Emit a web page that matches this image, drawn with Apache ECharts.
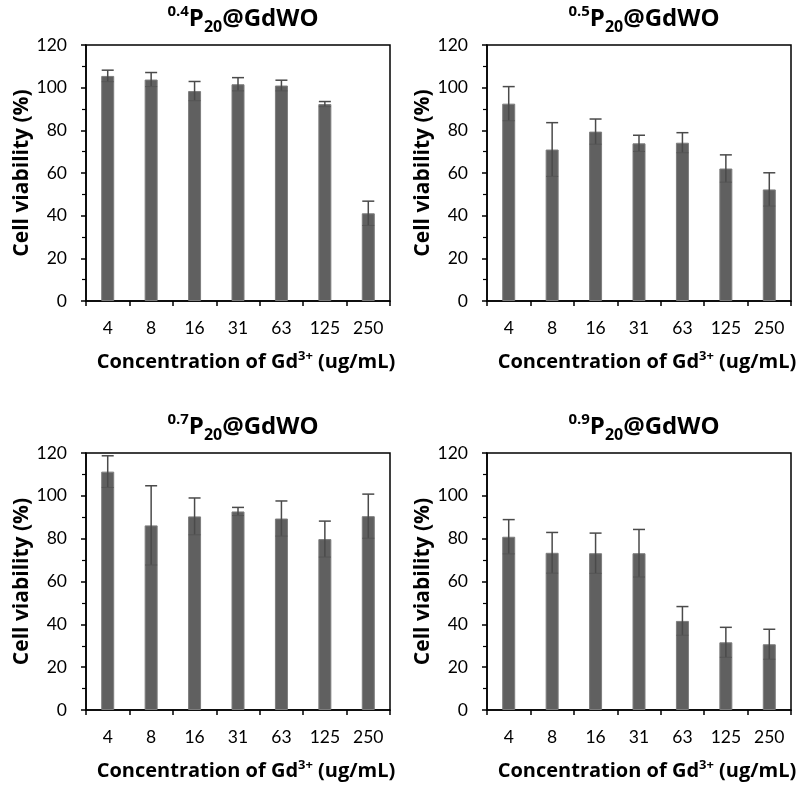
<!DOCTYPE html>
<html>
<head>
<meta charset="utf-8">
<script src="https://cdn.jsdelivr.net/npm/echarts@6/dist/echarts.min.js"></script>
<style>
  html, body { margin: 0; padding: 0; background: #fff; }
  #chart { width: 802px; height: 787px; }
</style>
</head>
<body>
<div id="chart"></div>
<script>
// Gd3+ concentrations (ug/mL)
const concentrations = ['4', '8', '16', '31', '63', '125', '250'];

// Panel labels: superscript prefix of each sample
const samplePrefixes = ['0.4', '0.5', '0.7', '0.9'];

// Mean cell viability (%) per sample
const viability04 = [105.5, 103.8, 98.4, 101.6, 101.0, 92.3, 41.1];
const viability05 = [92.5, 71.0, 79.4, 73.9, 74.2, 62.1, 52.3];
const viability07 = [111.3, 86.2, 90.4, 92.7, 89.4, 79.8, 90.5];
const viability09 = [80.9, 73.4, 73.2, 73.2, 41.6, 31.6, 30.7];

// Standard deviations (%) per sample
const sd04 = [2.7, 3.3, 4.5, 3.1, 2.5, 1.2, 5.7];
const sd05 = [8.0, 12.6, 5.9, 3.8, 4.7, 6.4, 7.8];
const sd07 = [7.4, 18.5, 8.6, 1.9, 8.2, 8.4, 10.3];
const sd09 = [8.0, 9.5, 9.4, 11.1, 6.7, 7.0, 7.0];

// Y axis ticks
const yMin = 0, yMax = 120, yStep = 20;

const means = [viability04, viability05, viability07, viability09];
const sds = [sd04, sd05, sd07, sd09];

const LABEL_FONT = 'Lato';
const BOLD_FONT = 'Open Sans';
const grids = [
  { left: 86, top: 45, width: 304, height: 256 },
  { left: 487, top: 45, width: 304, height: 256 },
  { left: 86, top: 453, width: 304, height: 257 },
  { left: 487, top: 453, width: 304, height: 257 }
];

const titleRich = {
  b: { fontFamily: BOLD_FONT, fontWeight: 'bold', fontSize: 24, color: '#000', lineHeight: 32, verticalAlign: 'middle' },
  sup: { fontFamily: BOLD_FONT, fontWeight: 'bold', fontSize: 15, color: '#000', lineHeight: 15, verticalAlign: 'top', padding: [1, 0, 0, 0] },
  sub: { fontFamily: BOLD_FONT, fontWeight: 'bold', fontSize: 16, color: '#000', lineHeight: 16, verticalAlign: 'bottom' }
};

const nameRich = {
  n: { fontFamily: BOLD_FONT, fontWeight: 'bold', fontSize: 20, color: '#000', lineHeight: 26, verticalAlign: 'middle' },
  s: { fontFamily: BOLD_FONT, fontWeight: 'bold', fontSize: 13, color: '#000', lineHeight: 13, verticalAlign: 'top', padding: [1, 0, 0, 0] }
};

function errorBar(params, api) {
  const x = api.value(0);
  const m = api.value(1);
  const e = api.value(2);
  const top = api.coord([x, m + e]);
  const bot = api.coord([x, m - e]);
  const half = 6;
  const style = { stroke: '#4a4a4a', lineWidth: 1.5 };
  return {
    type: 'group',
    children: [
      { type: 'line', shape: { x1: top[0], y1: top[1], x2: bot[0], y2: bot[1] }, style },
      { type: 'line', shape: { x1: top[0] - half, y1: top[1], x2: top[0] + half, y2: top[1] }, style },
      { type: 'line', shape: { x1: bot[0] - half, y1: bot[1], x2: bot[0] + half, y2: bot[1] }, style: { stroke: '#555', lineWidth: 1 } }
    ]
  };
}

const option = {
  backgroundColor: '#fff',
  animation: false,
  title: grids.map((g, i) => ({
    text: '{sup|' + samplePrefixes[i] + '}{b|P}{sub|20}{b|@GdWO}',
    left: g.left + g.width / 2,
    top: g.top - 47,
    textAlign: 'center',
    textStyle: { rich: titleRich }
  })),
  grid: grids.map(g => Object.assign({
    show: true, borderColor: '#000', borderWidth: 1.5, backgroundColor: 'transparent'
  }, g)),
  xAxis: grids.map((g, i) => ({
    type: 'category',
    gridIndex: i,
    data: concentrations,
    boundaryGap: true,
    name: '{n|Concentration of Gd}{s|3+}{n| (ug/mL)}',
    nameLocation: 'middle',
    nameGap: 48,
    nameTextStyle: { rich: nameRich, padding: [0, 0, 0, 16] },
    axisLine: { lineStyle: { color: '#000', width: 1.5 } },
    axisTick: { show: true, inside: false, length: 5, alignWithLabel: false, lineStyle: { color: '#000', width: 1.5 } },
    axisLabel: { fontFamily: LABEL_FONT, fontSize: 17.5, color: '#000', margin: 18 },
    splitLine: { show: false }
  })),
  yAxis: grids.map((g, i) => ({
    type: 'value',
    gridIndex: i,
    min: yMin, max: yMax, interval: yStep,
    name: 'Cell viability (%)',
    nameLocation: 'middle',
    nameGap: 48,
    nameTextStyle: { fontFamily: BOLD_FONT, fontWeight: 'bold', fontSize: 21, color: '#000' },
    axisLine: { show: true, lineStyle: { color: '#000', width: 1.5 } },
    axisTick: { show: true, inside: false, length: 5, lineStyle: { color: '#000', width: 1.5 } },
    minorTick: { show: true, splitNumber: 2, length: 4, lineStyle: { color: '#000', width: 1.2 } },
    axisLabel: { fontFamily: LABEL_FONT, fontSize: 17.5, color: '#000', margin: 19 },
    splitLine: { show: false }
  })),
  series: []
};

means.forEach((vals, i) => {
  option.series.push({
    type: 'bar',
    xAxisIndex: i, yAxisIndex: i,
    data: vals,
    barWidth: 13,
    itemStyle: { color: '#606060', borderColor: '#7d7d7d', borderWidth: 1 },
    z: 2
  });
  option.series.push({
    type: 'custom',
    xAxisIndex: i, yAxisIndex: i,
    data: vals.map((v, k) => [k, v, sds[i][k]]),
    encode: { x: 0, y: 1 },
    renderItem: errorBar,
    z: 3
  });
});

const chart = echarts.init(document.getElementById('chart'), null, { renderer: 'canvas' });
chart.setOption(option);
</script>
</body>
</html>
